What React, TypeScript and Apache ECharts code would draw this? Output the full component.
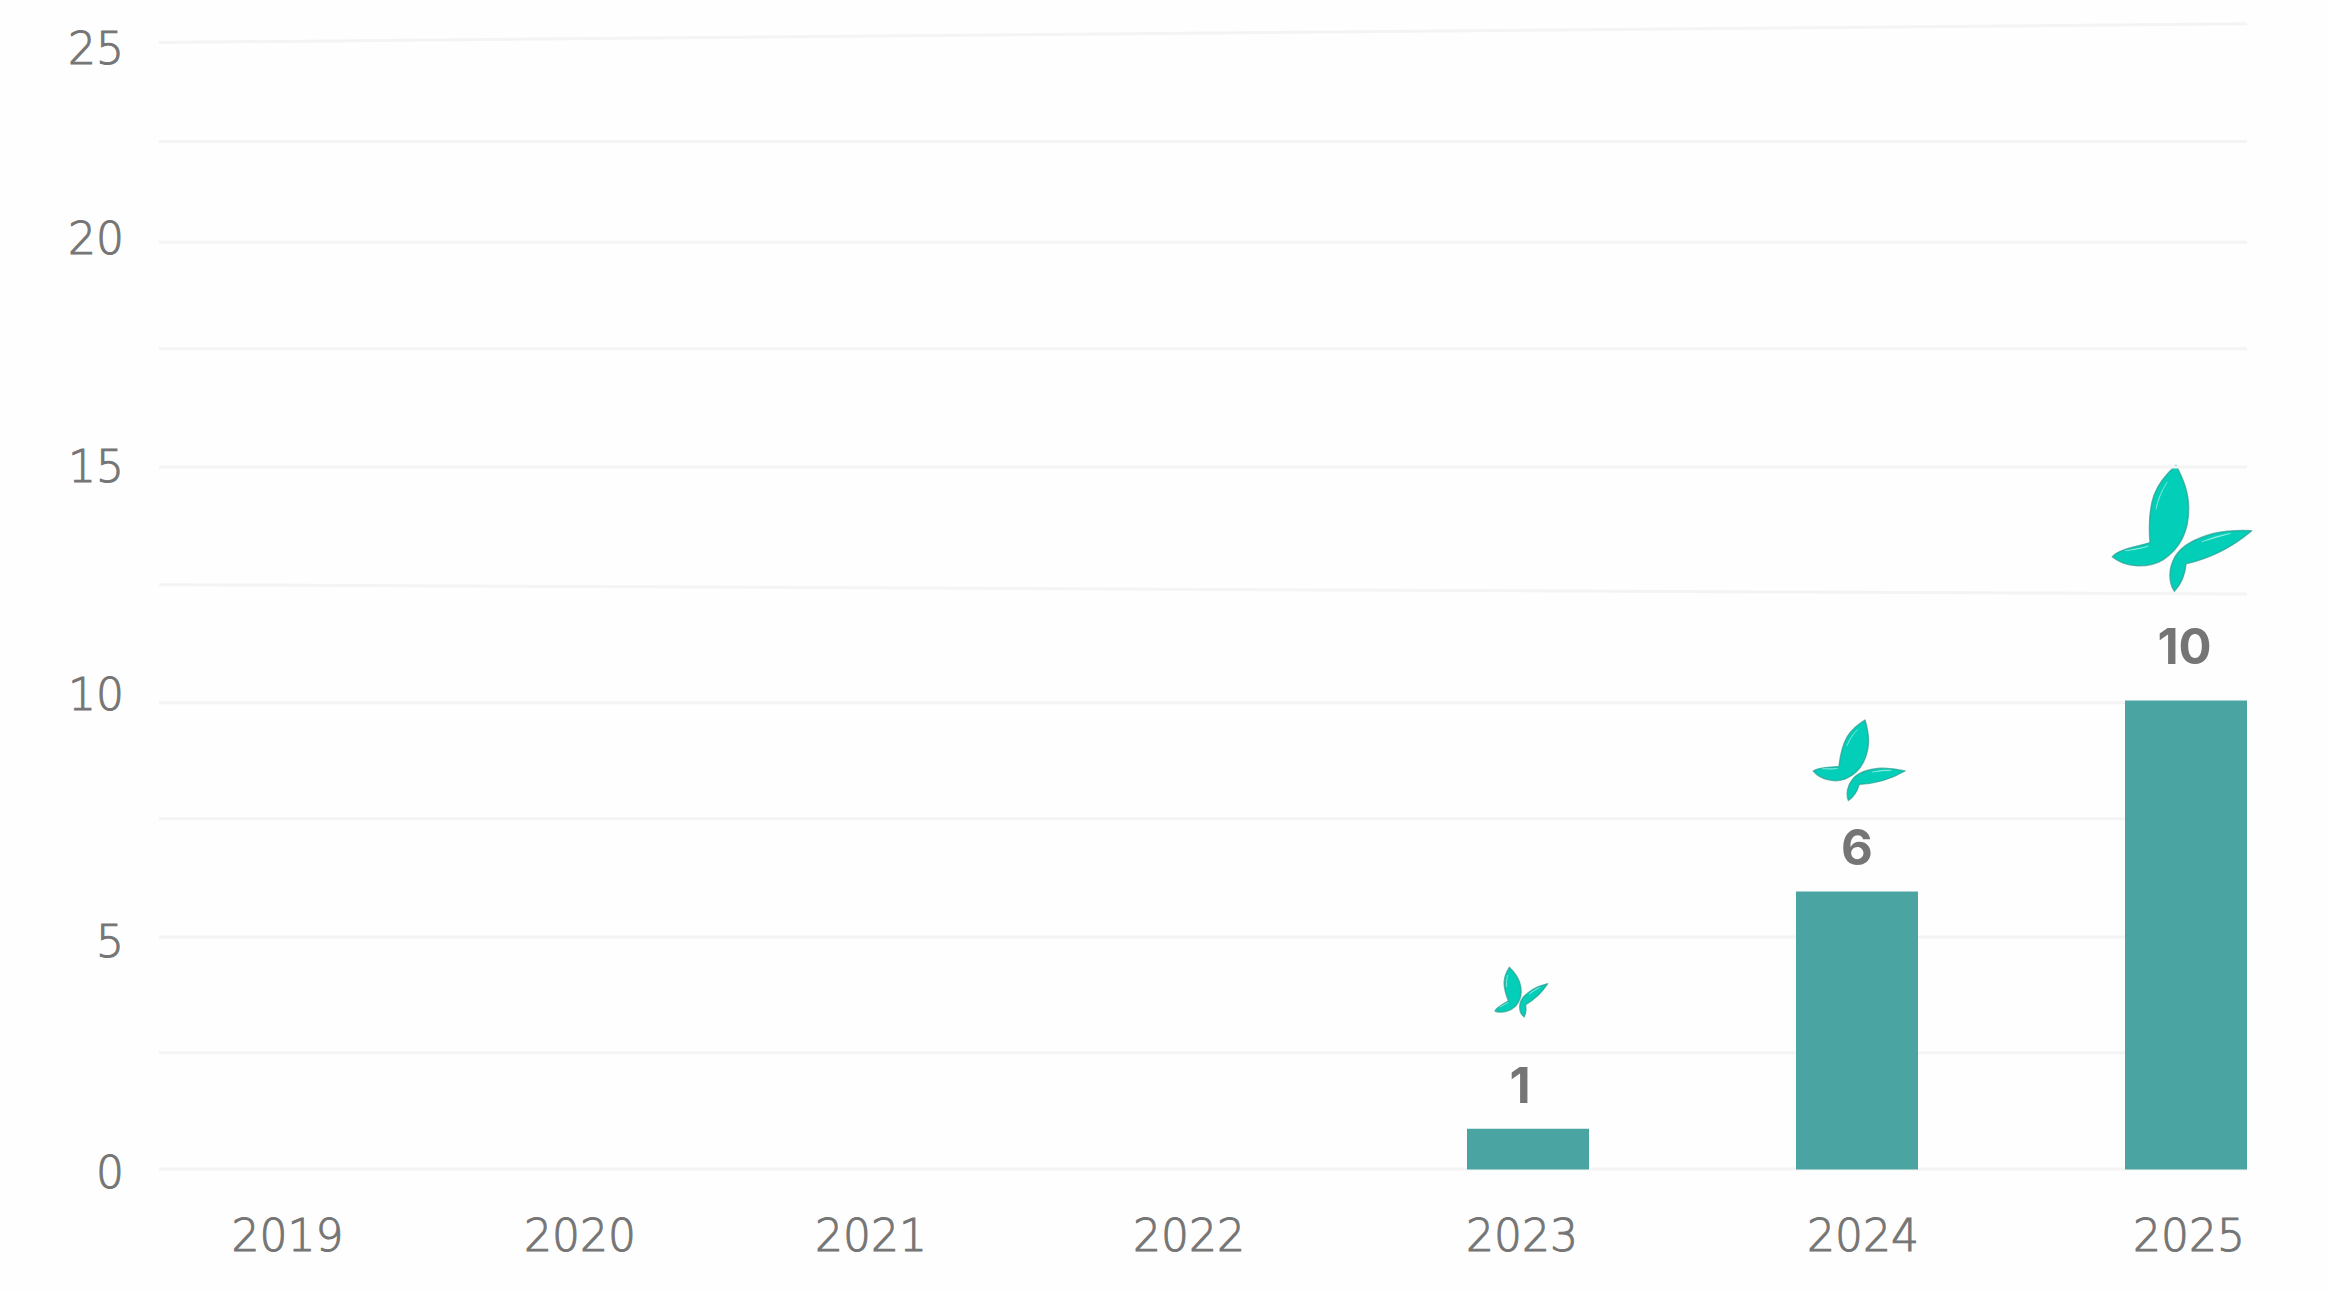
import React, { useEffect, useRef } from "react";
import * as echarts from "echarts";

const categories = ["2019", "2020", "2021", "2022", "2023", "2024", "2025"];
const barValues = [0, 0, 0, 0, 0.87, 5.93, 10];
const barLabels = ["", "", "", "", "1", "6", "10"];
const yTickLabels = ["0", "5", "10", "15", "20", "25"];
const yTickPlaces = [-0.064, 4.856, 10.12, 15, 19.86, 23.91];
const gridLeftValues = [0.01, 2.49, 4.96, 7.48, 9.95, 12.47, 14.98, 17.5, 19.77, 21.92, 24.03];
const gridRightValues = [0.01, 2.49, 4.96, 7.48, 9.95, 12.27, 14.98, 17.5, 19.77, 21.92, 24.43];

const GREY = "#757575";
const AXIS_FONT = "'DejaVu Sans', Inter, sans-serif";
const FONT = "Inter, 'Noto Sans', sans-serif";
const labelShift: Record<string, number> = {
  "2019": 75.5, "2020": 39, "2021": 1, "2022": -10, "2023": -6, "2024": 6, "2025": 3,
};
const barLabelOffset: Record<string, number[]> = {
  "1": [-8, -1], "6": [0, -1], "10": [-1.5, -12],
};

// Butterfly outline, drawn in the coordinates of the largest one.
const wingMain = [[678,220],[700,262,716,300,716,350],[716,420,690,470,640,503],[600,528,530,530,487,494],[510,470,560,465,600,452],[596,400,598,350,612,310],[625,275,650,245,678,220]];
const wingLow = [[905,417],[860,455,800,495,708,516],[705,550,695,575,673,598],[655,570,655,530,675,495],[695,460,735,440,790,425],[830,416,870,415,905,417]];
const gleams = [
  [[652,270],[635,295,622,325,618,352],[624,325,635,295,652,270]],
  [[596,462],[575,468,550,472,525,476],[550,474,578,470,596,462]],
  [[842,425],[815,428,785,437,755,450],[785,441,815,432,842,425]],
];
const baseTips = [[487,494],[905,417],[678,220]];
const butterflies = [
  { name: "big", tips: [[2112.3,556.7],[2251.7,530.7],[2176,465.3]] },
  { name: "mid", tips: [[1813.3,771],[1905,771],[1865,720]] },
  { name: "small", tips: [[1495,1011],[1547.7,983.7],[1509.3,967.3]] },
];

function affine(src: number[][], dst: number[][]) {
  const [[x1,y1],[x2,y2],[x3,y3]] = src;
  const det = (x1-x3)*(y2-y3) - (x2-x3)*(y1-y3);
  const solve = (k: number) => {
    const [v1,v2,v3] = [dst[0][k],dst[1][k],dst[2][k]];
    const a = ((v1-v3)*(y2-y3) - (v2-v3)*(y1-y3)) / det;
    const b = ((x1-x3)*(v2-v3) - (x2-x3)*(v1-v3)) / det;
    return [a, b, v3 - a*x3 - b*y3];
  };
  const mx = solve(0), my = solve(1);
  return (x: number, y: number) => `${(mx[0]*x+mx[1]*y+mx[2]).toFixed(2)} ${(my[0]*x+my[1]*y+my[2]).toFixed(2)}`;
}
function toD(parts: number[][][], map: (x: number, y: number) => string) {
  return parts.map((p) => {
    let s = `M${map(p[0][0], p[0][1])}`;
    for (const c of p.slice(1)) s += `C${map(c[0],c[1])} ${map(c[2],c[3])} ${map(c[4],c[5])}`;
    return s + "Z";
  }).join("");
}
const graphics: any[] = [];
for (const b of butterflies) {
  const map = affine(baseTips, b.tips);
  echarts.graphic.registerShape(`bf-${b.name}`, echarts.graphic.extendPath(toD([wingMain, wingLow], map), {}) as any);
  echarts.graphic.registerShape(`bfg-${b.name}`, echarts.graphic.extendPath(toD(gleams, map), {}) as any);
  graphics.push({
    type: `bf-${b.name}`, x: 0, y: 0, silent: true,
    style: { fill: "#03cfb8", stroke: "rgba(45,160,148,0.7)", lineWidth: 1.4, lineJoin: "round" },
  });
  graphics.push({
    type: `bfg-${b.name}`, x: 0, y: 0, silent: true,
    style: { fill: "rgba(255,255,255,0.5)", stroke: "rgba(255,255,255,0.3)", lineWidth: 0.8, lineJoin: "round" },
  });
}

export default function App() {
  const ref = useRef<HTMLDivElement>(null);
  useEffect(() => {
    document.body.style.margin = "0";
    const chart = echarts.init(ref.current!, undefined, { renderer: "svg" });
    const top = -3, bottom = 122.5, unit = 46.9;
    const axisText = {
      color: GREY, fontFamily: AXIS_FONT, fontWeight: 200, fontSize: 44,
      textBorderColor: GREY, textBorderWidth: 1,
    };
    chart.setOption({
      animation: false,
      backgroundColor: "#fefefe",
      grid: [
        { left: 47.5, right: -23.5, top, bottom, outerBoundsMode: "none" },
        // The second grid reaches one unit lower so that its axis can run from -1.
        { left: 159, right: 80, top, bottom: bottom - unit, outerBoundsMode: "none" },
      ],
      xAxis: [
        {
          type: "category", gridIndex: 0,
          data: categories.map((c) => {
            const s = labelShift[c];
            return { value: c, textStyle: { padding: s >= 0 ? [0, 0, 0, 2*s] : [0, -2*s, 0, 0] } };
          }),
          axisLine: { show: false }, axisTick: { show: false }, splitLine: { show: false },
          axisLabel: { interval: 0, hideOverlap: false, margin: 43.5, ...axisText },
        },
        { type: "value", gridIndex: 1, min: 0, max: 1, show: false, splitLine: { show: false } },
      ],
      yAxis: [
        { type: "value", gridIndex: 0, min: 0, max: 25, show: false, splitLine: { show: false } },
        {
          type: "value", gridIndex: 1, min: -1, max: 25, position: "left",
          axisLine: { show: false }, axisTick: { show: false }, splitLine: { show: false },
          axisLabel: {
            customValues: yTickPlaces,
            formatter: (v: number) => yTickLabels[yTickPlaces.indexOf(v)] ?? "",
            margin: 35, verticalAlign: "middle",
            ...axisText,
          },
        },
      ],
      series: [
        ...gridLeftValues.map((l, i) => ({
          type: "line", xAxisIndex: 1, yAxisIndex: 1, z: 1, silent: true, symbol: "none",
          lineStyle: { color: "#f4f4f4", width: 3 },
          data: [[0, l], [1, gridRightValues[i]]],
        })),
        {
          type: "bar", xAxisIndex: 0, yAxisIndex: 0, z: 3, barWidth: 122,
          itemStyle: { color: "#4aa5a2" },
          data: barValues.map((v, i) => ({
            value: v,
            label: {
              show: barLabels[i] !== "",
              position: "top", distance: 18,
              formatter: barLabels[i],
              offset: barLabelOffset[barLabels[i]] ?? [0, 0],
              color: GREY, fontFamily: FONT, fontWeight: 700, fontSize: 49,
            },
          })),
        },
      ],
      graphic: { elements: graphics },
    });
    return () => chart.dispose();
  }, []);
  return <div ref={ref} style={{ width: 2327, height: 1292, position: "absolute", left: 0, top: 0, overflow: "hidden" }} />;
}
